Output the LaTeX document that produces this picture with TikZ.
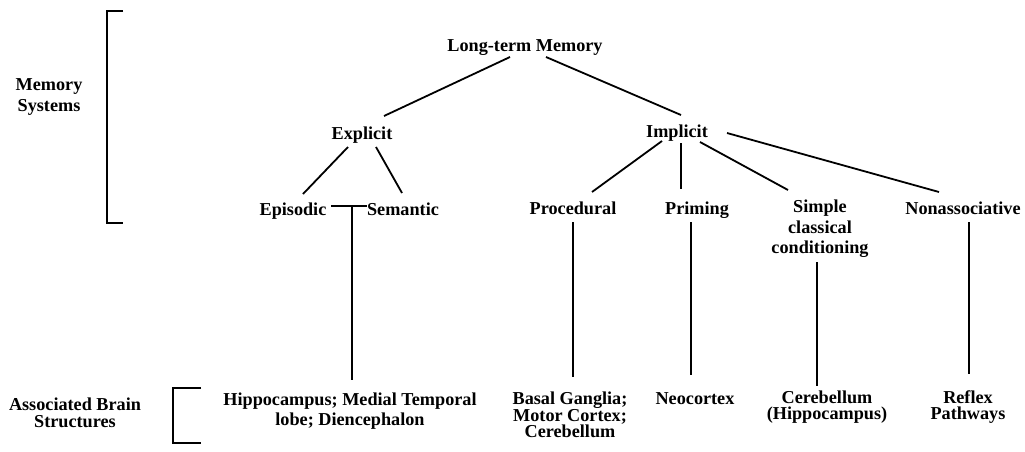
\documentclass[tikz,border=0pt]{standalone}
\usepackage{fontspec}
\setmainfont{Liberation Serif}
\usetikzlibrary{calc}
\tikzset{
  lbl/.style={inner sep=0pt, align=center, font=\fontsize{18.2}{20.5}\selectfont\bfseries},
  one/.style={lbl, anchor=base},
  tight/.style={font=\fontsize{18.2}{16.5}\selectfont\bfseries},
  conn/.style={line width=1.8pt, line cap=butt},
  brk/.style={line width=2pt}
}
\begin{document}
\begin{tikzpicture}[x=1pt,y=-1pt]
\fill[white] (0,0) rectangle (1025,451);
\useasboundingbox (0,0) rectangle (1025,451);
% labels
\node[one] (ltm) at (525,51) {Long-term Memory};
\node[one] (expl) at (362,139) {Explicit};
\node[one] (impl) at (677,137) {Implicit};
\node[one] (epis) at (293,215) {Episodic};
\node[one] (sem) at (403,215) {Semantic};
\node[one] (proc) at (573,214) {Procedural};
\node[one] (prim) at (697,214) {Priming};
\node[lbl] (simp) at (820,229) {Simple\\classical\\conditioning};
\node[one] (nona) at (963,214) {Nonassociative};
\node[lbl] (hippo) at (350,411) {Hippocampus; Medial Temporal\\lobe; Diencephalon};
\node[lbl,tight] (basal) at (570,415) {Basal Ganglia;\\Motor Cortex;\\Cerebellum};
\node[one] (neo) at (695,404) {Neocortex};
\node[lbl,tight] (cereb) at (827,407) {Cerebellum\\(Hippocampus)};
\node[lbl,tight] (refl) at (968,407) {Reflex\\Pathways};
\node[lbl] (memsys) at (49,97) {Memory\\Systems};
\node[lbl,font=\fontsize{18.2}{17}\selectfont\bfseries] (abs) at (75,413) {Associated Brain\\Structures};
% brackets
\draw[brk] (123,11) -- (107,11) -- (107,223) -- (123,223);
\draw[brk] (201,388) -- (173,388) -- (173,443) -- (201,443);
% connectors
\draw[conn] ($(ltm.base)+(-15,6)$) -- ($(expl.base)+(22,-23)$);
\draw[conn] ($(ltm.base)+(21,6)$) -- ($(impl.base)+(4,-22)$);
\draw[conn] ($(expl.base)+(-14,8)$) -- ($(epis.base)+(10,-21)$);
\draw[conn] ($(expl.base)+(14,8)$) -- ($(sem.base)+(-1,-22)$);
\draw[conn] ($(impl.base)+(-15,4)$) -- ($(proc.base)+(19,-22)$);
\draw[conn] ($(impl.base)+(4,6)$) -- ($(prim.base)+(-16,-25)$);
\draw[conn] ($(impl.base)+(23,5)$) -- ($(simp)+(-32,-39)$);
\draw[conn] ($(impl.base)+(50,-4)$) -- ($(nona.base)+(-24,-22)$);
\draw[conn] ($(epis.base)+(38,-9)$) -- ($(sem.base)+(-36,-9)$);
\coordinate (jn) at ($(epis.base)+(59,-9)$);
\draw[conn] (jn) -- ($(hippo)+(2,-31)$);
\draw[conn] ($(proc.base)+(0,8)$) -- ($(basal)+(3,-38)$);
\draw[conn] ($(prim.base)+(-6,8)$) -- ($(neo.base)+(-4,-29)$);
\draw[conn] ($(simp)+(-3,33)$) -- ($(cereb)+(-10,-21)$);
\draw[conn] ($(nona.base)+(6,8)$) -- ($(refl)+(1,-33)$);
\end{tikzpicture}
\end{document}
